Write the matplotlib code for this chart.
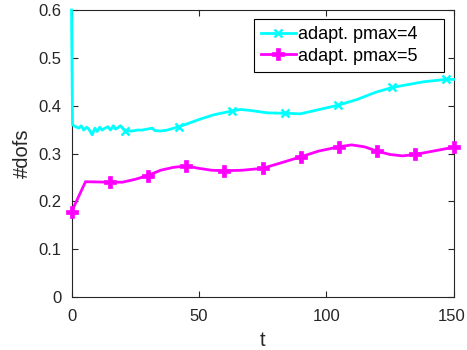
import numpy as np
import matplotlib
matplotlib.use('Agg')
import matplotlib.pyplot as plt
import matplotlib.transforms as mtransforms

plt.rcParams['font.family'] = ['Liberation Sans', 'DejaVu Sans']

# adaptive run, pmax = 4
t4 = [0, 0.4, 1.6, 2.9, 3.8, 4.8, 5.9, 6.8, 8.1, 9.2, 10.1, 11.1, 12.0, 13.1, 14.3,
      15.3, 16.4, 17.3, 18.2, 19.2, 20.5, 21.2, 23.8, 25.8, 27.7, 29.7, 31.7, 32.7,
      34.9, 37.6, 40.2, 42.1, 45.4, 50.6, 55.9, 63.1, 66.4, 70.3, 76.8, 84.0, 89.9,
      96.5, 104.7, 112.2, 119.4, 125.9, 133.1, 138.3, 147.2, 150]
d4 = [0.600, 0.360, 0.356, 0.353, 0.358, 0.349, 0.355, 0.351, 0.339, 0.353, 0.346,
      0.355, 0.349, 0.353, 0.356, 0.349, 0.358, 0.351, 0.354, 0.358, 0.351, 0.347,
      0.347, 0.349, 0.349, 0.351, 0.353, 0.348, 0.347, 0.349, 0.353, 0.356, 0.362,
      0.372, 0.381, 0.389, 0.392, 0.390, 0.385, 0.384, 0.383, 0.391, 0.401, 0.413,
      0.428, 0.438, 0.445, 0.450, 0.455, 0.455]
mark4 = [21, 31, 35, 39, 42, 45, 48]

# adaptive run, pmax = 5
t5 = [0, 5.5, 15, 20, 25, 30, 35, 40, 45, 50, 55, 60, 67, 75, 82, 90, 97, 105,
      110, 115, 120, 125, 130, 135, 142, 150]
d5 = [0.178, 0.241, 0.240, 0.240, 0.246, 0.254, 0.265, 0.271, 0.274, 0.269, 0.265,
      0.264, 0.265, 0.269, 0.280, 0.293, 0.305, 0.314, 0.318, 0.314, 0.305, 0.298,
      0.295, 0.298, 0.305, 0.313]
mark5 = [0, 2, 5, 8, 11, 13, 15, 17, 20, 23, 25]

xticks = [0, 50, 100, 150]
yticks = [0, 0.1, 0.2, 0.3, 0.4, 0.5, 0.6]
ytick_labels = ['0', '0.1', '0.2', '0.3', '0.4', '0.5', '0.6']

fig = plt.figure(figsize=(4.67, 3.5), dpi=100)
ax = fig.add_axes([71.5 / 467, 53 / 350, 382 / 467, 287 / 350])

ax.plot(t4, d4, color='cyan', lw=2, marker='x', ms=6, mew=1.8,
        markevery=mark4, label='adapt. pmax=4', clip_on=False, zorder=3)
ax.plot(t5, d5, color='magenta', lw=2, marker='P', ms=8, mew=0.5,
        markevery=mark5, label='adapt. pmax=5', clip_on=False, zorder=3)

ax.set_xlim(0, 150)
ax.set_ylim(0, 0.6)
ax.set_xticks(xticks)
ax.set_yticks(yticks)
ax.set_yticklabels(ytick_labels)

gray = '#262626'
for s in ax.spines.values():
    s.set_color(gray)
    s.set_linewidth(0.8)
ax.tick_params(direction='in', top=True, right=True, length=4, width=0.8,
               color=gray, labelcolor=gray, labelsize=12)
ax.tick_params(axis='x', pad=8.5)
ax.tick_params(axis='y', pad=7)
ax.set_xlabel('t', fontsize=14.5, color=gray, labelpad=5)
ax.set_ylabel('#dofs', fontsize=14.5, color=gray, labelpad=5)

# keep the last x tick label inside the figure
last = ax.get_xticklabels()[-1]
last.set_transform(last.get_transform() +
                   mtransforms.ScaledTranslation(-2 / 100, 0, fig.dpi_scale_trans))

# legend box with a fixed width, spare room on the right
x0 = (254 - 71.5) / 382
w = (444 - 254) / 382
leg = ax.legend(loc='upper left', bbox_to_anchor=(x0, 0.969, w, 0), mode='expand',
                fontsize=13, fancybox=False, framealpha=1, edgecolor='black',
                handlelength=1.9, handletextpad=0.15, borderpad=0.4,
                labelspacing=0.25, borderaxespad=0)
leg.get_frame().set_linewidth(0.8)
for txt in leg.get_texts():
    txt.set_color('black')

fig.savefig('out.png', dpi=100)
